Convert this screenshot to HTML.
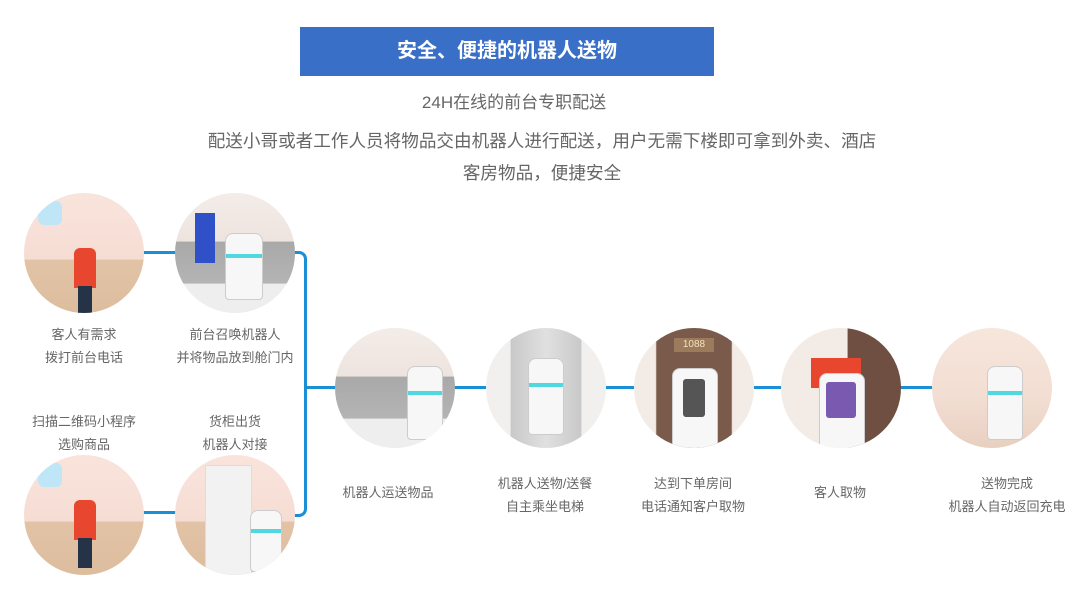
<!DOCTYPE html>
<html><head><meta charset="utf-8"><style>
body{margin:0;width:1080px;height:594px;background:#fff;position:relative;overflow:hidden;font-family:"Liberation Sans","Noto Sans CJK SC",sans-serif;}
.abs{position:absolute}
.t{position:absolute;color:#666;font-size:13px;text-align:center;line-height:23px;white-space:nowrap;transform:translateX(-50%)}
.c{position:absolute;width:120px;height:120px;border-radius:50%;overflow:hidden}
.warm{background:linear-gradient(180deg,#f9e4dc 0%,#f6ddd4 55%,#e2c3a6 56%,#dcbd9e 100%)}
.gray{background:linear-gradient(180deg,#f3ece8 0%,#eee4df 40%,#a9a9a9 41%,#b4b4b4 75%,#eee 76%)}
.lift{background:linear-gradient(90deg,#f2f0ee 0%,#f2f0ee 20%,#c9c9c9 21%,#e0e0e0 50%,#c9c9c9 79%,#f2f0ee 80%)}
.door{background:linear-gradient(90deg,#f3ebe6 0%,#f3ebe6 18%,#7a5a4a 19%,#7a5a4a 81%,#f3ebe6 82%)}
.line{position:absolute;background:#1a8fd6}
.robot{position:absolute;background:#f7f7f7;border:1px solid #ccc;border-radius:8px 8px 4px 4px}
.band{position:absolute;left:0;right:0;height:4px;background:#4fd8e0}
.person{position:absolute;width:22px;height:40px;background:#e8462e;border-radius:6px 6px 0 0}
.legs{position:absolute;width:14px;height:30px;background:#253348}
</style></head><body>
<div class="abs" style="left:300px;top:27px;width:414px;height:49px;background:#3a6fc8;color:#fff;font-size:20px;font-weight:bold;text-align:center;line-height:49px">安全、便捷的机器人送物</div>
<div class="t" style="left:514px;top:91px;font-size:17px;color:#666">24H在线的前台专职配送</div>
<div class="t" style="left:542px;top:130px;font-size:17.6px;color:#666">配送小哥或者工作人员将物品交由机器人进行配送，用户无需下楼即可拿到外卖、酒店</div>
<div class="t" style="left:542px;top:162px;font-size:17.6px;color:#666">客房物品，便捷安全</div>

<!-- connectors -->
<div class="line" style="left:140px;top:251px;width:40px;height:3px"></div>
<div class="line" style="left:140px;top:511px;width:40px;height:3px"></div>
<div class="abs" style="left:290px;top:251px;width:14px;height:260px;border:3px solid #1a8fd6;border-left:none;border-radius:0 8px 8px 0"></div>
<div class="line" style="left:305px;top:386px;width:40px;height:3px"></div>
<div class="line" style="left:450px;top:386px;width:40px;height:3px"></div>
<div class="line" style="left:600px;top:386px;width:40px;height:3px"></div>
<div class="line" style="left:748px;top:386px;width:40px;height:3px"></div>
<div class="line" style="left:895px;top:386px;width:42px;height:3px"></div>

<!-- left circles -->
<div class="c warm" style="left:24px;top:193px"><div class="person" style="left:50px;top:55px"></div><div class="legs" style="left:54px;top:93px"></div><div class="abs" style="left:14px;top:8px;width:24px;height:24px;background:#bfe6f7;border-radius:6px"></div></div>
<div class="c gray" style="left:175px;top:193px"><div class="abs" style="left:20px;top:20px;width:20px;height:50px;background:#3050c8"></div><div class="robot" style="left:50px;top:40px;width:36px;height:65px"><div class="band" style="top:20px"></div></div></div>
<div class="c warm" style="left:24px;top:455px"><div class="person" style="left:50px;top:45px"></div><div class="legs" style="left:54px;top:83px"></div><div class="abs" style="left:14px;top:8px;width:24px;height:24px;background:#bfe6f7;border-radius:6px"></div></div>
<div class="c warm" style="left:175px;top:455px"><div class="abs" style="left:30px;top:10px;width:45px;height:110px;background:#f2f2f2;border:1px solid #ddd"></div><div class="robot" style="left:75px;top:55px;width:30px;height:60px"><div class="band" style="top:18px"></div></div></div>

<div class="t" style="left:84px;top:323px">客人有需求<br>拨打前台电话</div>
<div class="t" style="left:235px;top:323px">前台召唤机器人<br>并将物品放到舱门内</div>
<div class="t" style="left:84px;top:410px">扫描二维码小程序<br>选购商品</div>
<div class="t" style="left:235px;top:410px">货柜出货<br>机器人对接</div>

<!-- row circles -->
<div class="c gray" style="left:335px;top:328px"><div class="robot" style="left:72px;top:38px;width:34px;height:72px"><div class="band" style="top:24px"></div></div></div>
<div class="c lift" style="left:486px;top:328px"><div class="robot" style="left:42px;top:30px;width:34px;height:75px"><div class="band" style="top:24px"></div></div></div>
<div class="c door" style="left:634px;top:328px"><div class="abs" style="left:40px;top:10px;width:40px;height:14px;background:#9c7b5c;color:#f3e3c0;font-size:10px;text-align:center;line-height:14px">1088</div><div class="robot" style="left:38px;top:40px;width:44px;height:85px"><div class="abs" style="left:10px;top:10px;width:22px;height:38px;background:#555;border-radius:3px"></div></div></div>
<div class="c door" style="left:781px;top:328px;background:linear-gradient(90deg,#f3ebe6 0%,#f3ebe6 55%,#6e4f42 56%)"><div class="abs" style="left:30px;top:30px;width:50px;height:30px;background:#e8462e"></div><div class="robot" style="left:38px;top:45px;width:44px;height:80px"><div class="abs" style="left:6px;top:8px;width:30px;height:36px;background:#7a5ab0;border-radius:3px"></div></div></div>
<div class="c warm" style="left:932px;top:328px;background:linear-gradient(180deg,#f7e6dc 0%,#f2ddd2 60%,#e8d0c0 100%)"><div class="robot" style="left:55px;top:38px;width:34px;height:72px"><div class="band" style="top:24px"></div></div></div>

<div class="t" style="left:388px;top:481px">机器人运送物品</div>
<div class="t" style="left:545px;top:472px">机器人送物/送餐<br>自主乘坐电梯</div>
<div class="t" style="left:693px;top:472px">达到下单房间<br>电话通知客户取物</div>
<div class="t" style="left:840px;top:481px">客人取物</div>
<div class="t" style="left:1007px;top:472px">送物完成<br>机器人自动返回充电</div>
</body></html>
